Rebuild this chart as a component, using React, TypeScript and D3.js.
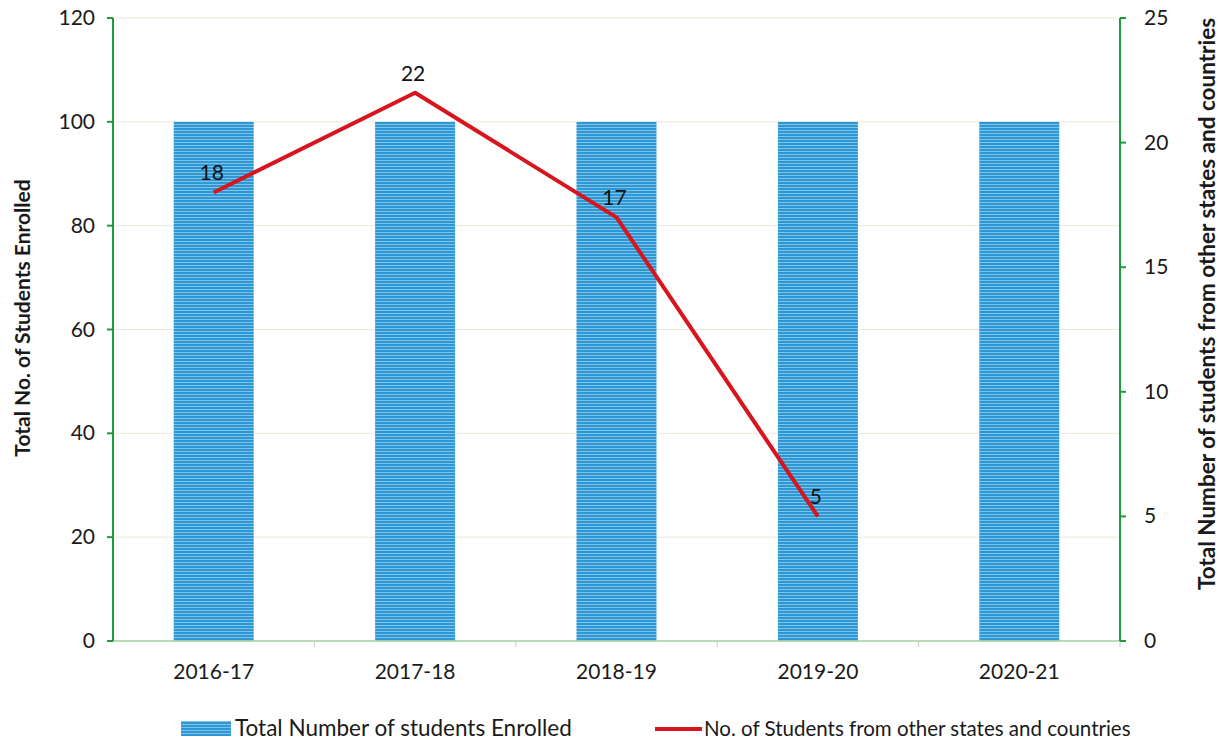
import React from "react";
import * as d3 from "d3";

const categories = ["2016-17", "2017-18", "2018-19", "2019-20", "2020-21"];
const enrolled = [100, 100, 100, 100, 100];
const otherStates = [18, 22, 17, 5];
const leftTicks = [0, 20, 40, 60, 80, 100, 120];
const rightTicks = [0, 5, 10, 15, 20, 25];

const W = 1219, H = 745;
const M = { left: 113, right: 1120, top: 18, bottom: 641 };
const FONT = "Lato, 'Open Sans', sans-serif";
const GREEN = "#1f9a3c";

export default function App() {
  const xOuter = d3.scaleBand().domain(categories).range([M.left, M.right]);
  const yL = d3.scaleLinear().domain([0, 120]).range([M.bottom, M.top]);
  const yR = d3.scaleLinear().domain([0, 25]).range([M.bottom, M.top]);
  const cx = (c: string) => (xOuter(c) ?? 0) + xOuter.bandwidth() / 2;
  const bw = 80;
  const linePts: [number, number][] = otherStates.map((v, i) => [cx(categories[i]), yR(v)]);
  const line = d3.line()(linePts) ?? "";

  return (
    <svg width={W} height={H} style={{ position: "absolute", left: 0, top: 0, background: "#fff" }}>
      <defs>
        <pattern id="stripes" width="4" height="3" patternUnits="userSpaceOnUse">
          <rect width="4" height="3" fill="#2f98d4" />
          <rect width="4" height="1" y="1" fill="#7cc3ea" />
        </pattern>
      </defs>
      {leftTicks.filter(t => t > 0).map(t => (
        <line key={t} x1={M.left} x2={M.right} y1={yL(t)} y2={yL(t)} stroke="#eee8dc" strokeWidth={1} />
      ))}
      {categories.map((c, i) => (
        <rect key={c} x={cx(c) - bw / 2} y={yL(enrolled[i])} width={bw} height={M.bottom - yL(enrolled[i])} fill="url(#stripes)" />
      ))}
      {/* x axis */}
      <line x1={M.left} x2={M.right} y1={M.bottom} y2={M.bottom} stroke="#9fcf9a" strokeWidth={1.5} />
      {categories.map(c => (
        <line key={c} x1={xOuter(c)! + xOuter.bandwidth()} x2={xOuter(c)! + xOuter.bandwidth()} y1={M.bottom} y2={M.bottom + 6} stroke="#c8c8c8" />
      ))}
      {categories.map(c => (
        <text key={c} x={cx(c)} y={679} textAnchor="middle" fontFamily={FONT} fontSize={21} fill="#1a1a1a">{c}</text>
      ))}
      {/* left axis */}
      <line x1={M.left} x2={M.left} y1={M.top} y2={M.bottom} stroke={GREEN} strokeWidth={2} />
      {leftTicks.map(t => (
        <g key={t}>
          <line x1={M.left - 6} x2={M.left} y1={yL(t)} y2={yL(t)} stroke={GREEN} strokeWidth={2} />
          <text x={95} y={yL(t) + 7} textAnchor="end" fontFamily={FONT} fontSize={21} fill="#1a1a1a">{t}</text>
        </g>
      ))}
      {/* right axis */}
      <line x1={M.right} x2={M.right} y1={M.top} y2={M.bottom} stroke={GREEN} strokeWidth={2} />
      {rightTicks.map(t => (
        <g key={t}>
          <line x1={M.right} x2={M.right + 6} y1={yR(t)} y2={yR(t)} stroke={GREEN} strokeWidth={2} />
          <text x={1144} y={yR(t) + 7} textAnchor="start" fontFamily={FONT} fontSize={21} fill="#1a1a1a">{t}</text>
        </g>
      ))}
      <text transform={`translate(30,318) rotate(-90)`} textAnchor="middle" fontFamily={FONT} fontWeight="bold" fontSize={21} fill="#1a1a1a">Total No. of Students Enrolled</text>
      <text transform={`translate(1215,304) rotate(-90)`} textAnchor="middle" fontFamily={FONT} fontWeight="bold" fontSize={22.5} fill="#1a1a1a">Total Number of students from other states and countries</text>
      {/* line */}
      <path d={line} fill="none" stroke="#d8141c" strokeWidth={4} strokeLinejoin="round" />
      {otherStates.map((v, i) => (
        <text key={i} x={cx(categories[i]) - 2} y={yR(v) - 12} textAnchor="middle" fontFamily={FONT} fontSize={21} fill="#111">{v}</text>
      ))}
      {/* legend */}
      <rect x={181} y={721} width={50} height={15} fill="url(#stripes)" />
      <text x={235} y={736} fontFamily={FONT} fontSize={22.5} fill="#1a1a1a">Total Number of students Enrolled</text>
      <line x1={655} x2={702} y1={729} y2={729} stroke="#d8141c" strokeWidth={4} />
      <text x={704} y={736} fontFamily={FONT} fontSize={20.5} fill="#1a1a1a">No. of Students from other states and countries</text>
    </svg>
  );
}
